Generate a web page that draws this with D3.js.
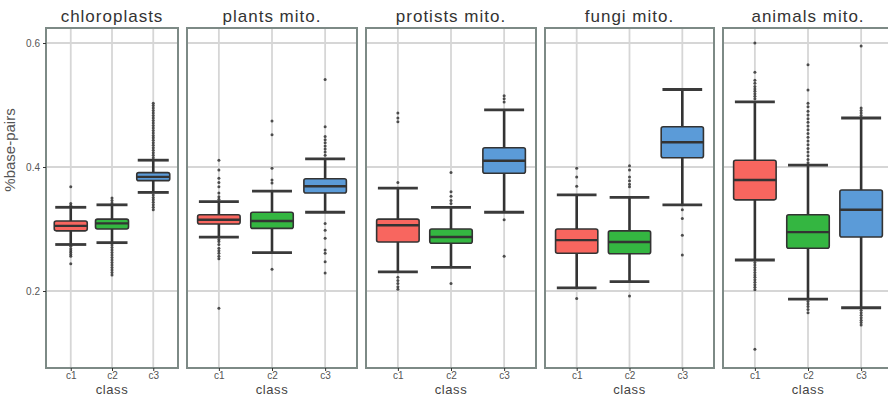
<!DOCTYPE html>
<html><head><meta charset="utf-8">
<script src="https://cdn.jsdelivr.net/npm/d3@7/dist/d3.min.js"></script>
<style>body{margin:0;background:#fff}svg{display:block}text{font-family:"Liberation Sans",Arial,sans-serif}</style>
</head><body>
<script>
// ---- data ----
const panels = ["chloroplasts", "plants mito.", "protists mito.", "fungi mito.", "animals mito."];
const classes = ["c1", "c2", "c3"];
const yTicks = [0.2, 0.4, 0.6];
// five-number summaries [lowerWhisker, q1, median, q3, upperWhisker] per panel, per class
const chloroStats = [[0.275,0.297,0.305,0.313,0.335],[0.278,0.300,0.309,0.316,0.339],[0.359,0.378,0.384,0.391,0.411]];
const plantsStats = [[0.287,0.308,0.315,0.323,0.344],[0.262,0.301,0.313,0.327,0.361],[0.327,0.358,0.369,0.381,0.413]];
const protistsStats = [[0.231,0.279,0.306,0.316,0.366],[0.238,0.277,0.287,0.300,0.335],[0.327,0.390,0.410,0.431,0.492]];
const fungiStats = [[0.205,0.261,0.282,0.300,0.355],[0.215,0.260,0.279,0.297,0.351],[0.339,0.415,0.440,0.465,0.525]];
const animalsStats = [[0.250,0.347,0.379,0.411,0.505],[0.187,0.269,0.295,0.323,0.403],[0.173,0.287,0.331,0.363,0.479]];
// outliers
const chloroOut = [
  [0.368,0.341,0.338,0.272,0.268,0.265,0.262,0.259,0.256,0.244],
  [0.350,0.346,0.342,0.274,0.270,0.266,0.262,0.258,0.254,0.250,0.246,0.242,0.238,0.234,0.230,0.226],
  [0.503,0.499,0.495,0.491,0.487,0.483,0.479,0.475,0.471,0.467,0.463,0.459,0.455,0.451,0.447,0.443,0.439,0.435,0.431,0.427,0.423,0.419,0.415,0.355,0.351,0.347,0.343,0.339,0.335,0.331]
];
const plantsOut = [
  [0.411,0.395,0.382,0.375,0.368,0.358,0.352,0.348,0.283,0.280,0.275,0.269,0.265,0.261,0.256,0.252,0.172],
  [0.474,0.452,0.398,0.379,0.374,0.235],
  [0.541,0.465,0.449,0.444,0.439,0.434,0.429,0.424,0.419,0.309,0.298,0.285,0.266,0.261,0.247,0.229]
];
const protistsOut = [
  [0.487,0.479,0.473,0.375,0.222,0.217,0.212,0.207,0.203],
  [0.391,0.360,0.353,0.346,0.341,0.212],
  [0.515,0.510,0.505,0.315,0.256]
];
const fungiOut = [
  [0.398,0.384,0.369,0.188],
  [0.402,0.395,0.384,0.378,0.372,0.368,0.192],
  [0.331,0.317,0.290,0.258]
];
const animalsOut = [
  [0.600,0.553,0.540,0.535,0.530,0.526,0.522,0.518,0.514,0.510,0.246,0.242,0.238,0.234,0.230,0.226,0.222,0.218,0.214,0.210,0.206,0.202,0.106],
  [0.565,0.524,0.503,0.497,0.490,0.484,0.478,0.472,0.466,0.460,0.454,0.448,0.442,0.436,0.430,0.424,0.418,0.412,0.407,0.183,0.179,0.175,0.170,0.165],
  [0.595,0.495,0.491,0.487,0.483,0.169,0.165,0.161,0.157,0.153,0.149,0.145]
];
const allStats = [chloroStats, plantsStats, protistsStats, fungiStats, animalsStats];
const allOut = [chloroOut, plantsOut, protistsOut, fungiOut, animalsOut];
const classColors = ["#f8665f", "#34b641", "#5b9bd8"];

// ---- layout ----
const W = 888, H = 398;
const panelLeft = [46, 187, 366, 545, 723];
const panelWidth = [132, 170, 170, 169, 170];
const pTop = 28, pBottom = 368;

const svg = d3.select("body").append("svg").attr("width", W).attr("height", H);
const y = d3.scaleLinear().domain([0.2, 0.6]).range([291, 43]);
const color = d3.scaleOrdinal().domain(classes).range(classColors);

panels.forEach((name, pi) => {
  const x0 = panelLeft[pi], w = panelWidth[pi];
  const x = d3.scalePoint().domain(classes).range([x0, x0 + w]).padding(0.6);
  const bw = x.step() * 0.8;
  const g = svg.append("g");
  const clip = "clip" + pi;
  g.append("clipPath").attr("id", clip).append("rect").attr("x", x0).attr("y", pTop).attr("width", w).attr("height", pBottom - pTop);
  const inner = g.append("g").attr("clip-path", `url(#${clip})`);
  inner.append("rect").attr("x", x0).attr("y", pTop).attr("width", w).attr("height", pBottom - pTop).attr("fill", "#fff");
  // gridlines
  inner.selectAll(".hg").data(yTicks).join("line")
    .attr("x1", x0).attr("x2", x0 + w).attr("y1", d => y(d)).attr("y2", d => y(d))
    .attr("stroke", "#d6d6d6").attr("stroke-width", 1.8);
  inner.selectAll(".vg").data(classes).join("line")
    .attr("x1", d => x(d)).attr("x2", d => x(d)).attr("y1", pTop).attr("y2", pBottom)
    .attr("stroke", "#d6d6d6").attr("stroke-width", 1.8);

  const stats = allStats[pi], outs = allOut[pi];
  classes.forEach((c, ci) => {
    const s = stats[ci], cx = x(c);
    // whisker line
    inner.append("line").attr("x1", cx).attr("x2", cx).attr("y1", y(s[0])).attr("y2", y(s[4]))
      .attr("stroke", "#333").attr("stroke-width", 2.6);
    // caps
    [s[0], s[4]].forEach(v => {
      inner.append("line").attr("x1", cx - bw * 0.47).attr("x2", cx + bw * 0.47).attr("y1", y(v)).attr("y2", y(v))
        .attr("stroke", "#3a3a3a").attr("stroke-width", 2.8);
    });
    // outliers
    inner.selectAll(null).data(outs[ci]).join("circle")
      .attr("cx", cx).attr("cy", d => y(d)).attr("r", 1.5).attr("fill", "#333").attr("opacity", 0.85);
    // box
    inner.append("rect").attr("x", cx - bw / 2).attr("width", bw)
      .attr("y", y(s[3])).attr("height", y(s[1]) - y(s[3]))
      .attr("rx", 2).attr("fill", color(c)).attr("stroke", "#333").attr("stroke-width", 1.6);
    inner.append("line").attr("x1", cx - bw / 2).attr("x2", cx + bw / 2).attr("y1", y(s[2])).attr("y2", y(s[2]))
      .attr("stroke", "#333").attr("stroke-width", 2.4);
  });
  // border
  g.append("rect").attr("x", x0).attr("y", pTop).attr("width", w).attr("height", pBottom - pTop)
    .attr("fill", "none").attr("stroke", "#7d8a86").attr("stroke-width", 2);
  // strip title
  g.append("text").attr("x", x0 + w / 2).attr("y", 22).attr("text-anchor", "middle")
    .attr("font-size", 17).attr("letter-spacing", 1).attr("fill", "#333").text(name);
  // x axis
  const xa = g.append("g").attr("transform", `translate(0,${pBottom})`)
    .call(d3.axisBottom(x).tickSize(3).tickPadding(1));
  xa.select(".domain").remove();
  xa.selectAll("line").attr("stroke", "#333");
  xa.selectAll("text").attr("font-size", 10).attr("fill", "#555").attr("font-family", '"Liberation Sans",Arial,sans-serif');
  g.append("text").attr("x", x0 + w / 2).attr("y", 394).attr("text-anchor", "middle")
    .attr("font-size", 13).attr("letter-spacing", 0.6).attr("fill", "#444").text("class");
  if (pi === 0) {
    const ya = g.append("g").attr("transform", `translate(${x0},0)`)
      .call(d3.axisLeft(y).tickValues(yTicks).tickFormat(d3.format(".1f")).tickSize(3).tickPadding(3));
    ya.select(".domain").remove();
    ya.selectAll("line").attr("stroke", "#333");
    ya.selectAll("text").attr("font-size", 10).attr("fill", "#555").attr("font-family", '"Liberation Sans",Arial,sans-serif');
  }
});
svg.append("text").attr("transform", "translate(15,150) rotate(-90)").attr("text-anchor", "middle")
  .attr("font-size", 15).attr("fill", "#555").text("%base-pairs");
</script>
</body></html>
